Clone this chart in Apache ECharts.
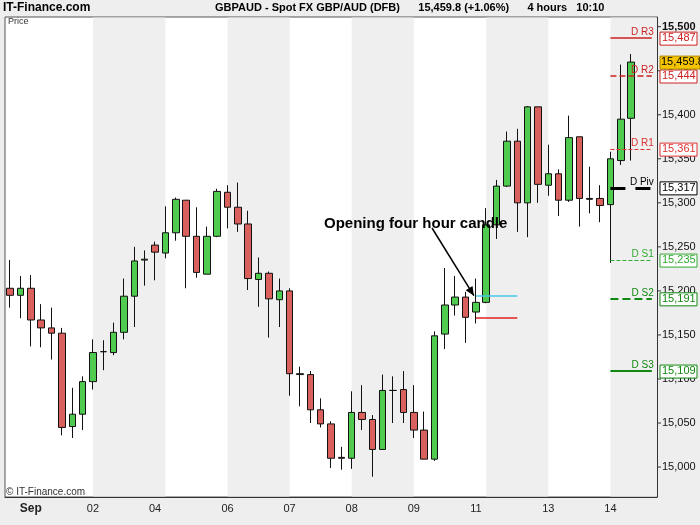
<!DOCTYPE html>
<html><head><meta charset="utf-8">
<script src="https://cdn.jsdelivr.net/npm/echarts@6/dist/echarts.min.js"></script>
<style>html,body{margin:0;padding:0;background:#eeeeee}#c{width:700px;height:525px}</style>
</head><body><div id="c"></div>
<script>
// [open, close, low, high]
const candles = [
[15203,15195,15181,15235],[15195,15203,15169,15217],[15203,15167,15137,15218],[15167,15158,15136,15185],
[15158,15152,15122,15181],[15152,15045,15036,15158],[15046,15060,15033,15090],[15060,15097,15042,15103],
[15097,15130,15088,15145],[15131,15131,15110,15144],[15130,15153,15127,15164],[15153,15194,15145,15214],
[15194,15234,15159,15250],[15235,15236,15206,15246],[15252,15244,15212,15256],[15243,15266,15237,15296],
[15266,15304,15257,15306],[15303,15262,15203,15303],[15262,15221,15215,15295],[15219,15262,15219,15273],
[15262,15313,15261,15316],[15312,15295,15271,15320],[15295,15276,15267,15323],[15276,15214,15201,15291],
[15213,15220,15182,15238],[15220,15191,15147,15222],[15190,15200,15159,15214],[15200,15106,15081,15203],
[15106,15105,15069,15114],[15105,15065,15050,15109],[15065,15049,15045,15078],[15049,15010,14999,15052],
[15011,15010,14997,15023],[15010,15062,14998,15086],[15062,15054,15042,15093],[15054,15020,14989,15059],
[15020,15087,15020,15105],[15087,15087,15050,15103],[15088,15062,15050,15109],[15062,15042,15033,15093],
[15042,15009,15009,15063],[15009,15149,15007,15154],[15151,15184,15134,15226],[15184,15193,15172,15217],
[15193,15170,15141,15199],[15176,15187,15163,15214],[15187,15275,15186,15294],[15275,15319,15259,15326],
[15319,15370,15318,15381],[15370,15300,15267,15384],[15300,15409,15261,15410],[15409,15321,15300,15409],
[15320,15333,15308,15366],[15333,15303,15285,15338],[15303,15374,15301,15399],[15375,15305,15273,15375],
[15305,15304,15288,15341],[15305,15297,15278,15320],[15298,15350,15232,15358],[15348,15395,15343,15457],
[15396,15459.8,15348,15469]
];
const slotCount = 63;
const dayLabels = {2:'Sep',8:'02',14:'04',21:'06',27:'07',33:'08',39:'09',45:'11',52:'13',58:'14'};
const bands = [[8,15],[21,27],[33,39],[46,52],[58,63]];
const pivots = [
 {name:'D R3', v:15487, color:'#cc2222', type:'solid', w:1.5},
 {name:'D R2', v:15444, color:'#cc2222', type:'dashed', w:1.5},
 {name:'D R1', v:15361, color:'#dd3333', type:'dashed', w:1},
 {name:'D Piv', v:15317, color:'#000000', type:[15,10], w:3},
 {name:'D S1', v:15235, color:'#33aa33', type:'dashed', w:1},
 {name:'D S2', v:15191, color:'#118811', type:'dashed', w:2},
 {name:'D S3', v:15109, color:'#118811', type:'solid', w:2}
];
const yTicks = [15000,15050,15100,15150,15200,15250,15300,15350,15400,15450,15500];
const lastPrice = 15459.8;
const cats = []; for (let i=0;i<slotCount;i++) cats.push(dayLabels[i]!==undefined?dayLabels[i]:'');

const chart = echarts.init(document.getElementById('c'));
const Y0 = 14966, Y1 = 15511;
chart.setOption({
  animation:false,
  backgroundColor:'#eeeeee',
  grid:{left:5,right:43,top:17,bottom:28,show:true,backgroundColor:'#ffffff',borderColor:'#555',borderWidth:1,
    outerBoundsMode:'none',containLabel:false},
  xAxis:{type:'category',data:cats,boundaryGap:true,
    axisLine:{lineStyle:{color:'#333'}},
    axisTick:{interval:(i,v)=>v!=='',length:4,alignWithLabel:true,lineStyle:{color:'#333'}},
    axisLabel:{interval:0,margin:6,color:'#222',fontFamily:'Arial, Liberation Sans',fontSize:11,
      formatter:(v)=>v==='Sep'?'{b|Sep}':v,rich:{b:{fontWeight:'bold',fontSize:12,color:'#222',fontFamily:'Arial, Liberation Sans'}}},
    splitLine:{show:false}},
  yAxis:{type:'value',position:'right',min:Y0,max:Y1,axisLabel:{show:false},axisTick:{show:false},
    splitLine:{show:false},axisLine:{show:true,lineStyle:{color:'#333'}}},
  series:[{
    type:'candlestick',data:candles,barWidth:7,
    itemStyle:{color:'#4fcc4f',color0:'#d9605c',borderColor:'#111',borderColor0:'#111',borderWidth:1},
    markLine:{symbol:'none',silent:true,animation:false,
      data:pivots.map(p=>[{coord:[58,p.v],lineStyle:{color:p.color,type:p.type,width:p.w},
        label:{show:true,formatter:p.name,position:'insideEndTop',color:p.color,fontSize:10,fontFamily:'Arial, Liberation Sans',distance:[-2,1]}},
        {coord:[62,p.v]}]).concat([
        [{coord:[44.6,15195],lineStyle:{color:'#44c8e8',type:'solid',width:1.5},label:{show:false}},{coord:[48.5,15195]}],
        [{coord:[44.6,15170],lineStyle:{color:'#e02020',type:'solid',width:1.5},label:{show:false}},{coord:[48.5,15170]}]
      ])}
  }]
});

function px(i,v){return chart.convertToPixel({xAxisIndex:0,yAxisIndex:0},[i,v]);}
const g = [];
const yTop = px(0,Y1)[1], yBot = px(0,Y0)[1];
bands.forEach(b=>{
  const x0 = px(b[0],Y0)[0];
  const x1 = b[1]>=slotCount ? 657 : px(b[1],Y0)[0];
  g.push({type:'rect',z:1,silent:true,shape:{x:x0,y:yTop+0.5,width:x1-x0,height:yBot-yTop-1},style:{fill:'#efefef'}});
});
const axX = 657;
yTicks.forEach(t=>{
  const y = px(0,t)[1];
  g.push({type:'line',shape:{x1:axX,y1:y,x2:axX+4,y2:y},style:{stroke:'#333',lineWidth:1}});
  g.push({type:'text',x:axX+5,y:y,style:{text:t.toLocaleString('en-US'),fill:'#111',
    font:(t===15500?'bold 11px':'11px')+' Arial, "Liberation Sans"',textVerticalAlign:'middle'}});
});
pivots.forEach(p=>{
  const y = px(0,p.v)[1];
  g.push({type:'rect',z:50,shape:{x:axX+3,y:y-6,width:37,height:13},style:{fill:'#fff',stroke:p.color==='#000000'?'#000':p.color,lineWidth:1}});
  g.push({type:'text',z:51,x:axX+5,y:y,style:{text:p.v.toLocaleString('en-US'),fill:p.color,font:'11px Arial, "Liberation Sans"',textVerticalAlign:'middle'}});
});
{
  const y = px(0,lastPrice)[1];
  g.push({type:'rect',z:52,shape:{x:axX+3,y:y-6,width:40,height:13},style:{fill:'#f5c400',stroke:'#b08800'}});
  g.push({type:'text',z:53,x:axX+4,y:y,style:{text:'15,459.8',fill:'#000',font:'11px Arial, "Liberation Sans"',textVerticalAlign:'middle'}});
}
const a0 = [432,228], aEnd = px(45, 15190);
const tx=aEnd[0]-2, ty=aEnd[1]-4;
g.push({type:'line',z:60,shape:{x1:a0[0],y1:a0[1],x2:tx,y2:ty},style:{stroke:'#000',lineWidth:1.5}});
{
  const dx=tx-a0[0], dy=ty-a0[1], L=Math.hypot(dx,dy), ux=dx/L, uy=dy/L;
  g.push({type:'polygon',z:60,shape:{points:[[tx,ty],[tx-ux*9-uy*4,ty-uy*9+ux*4],[tx-ux*9+uy*4,ty-uy*9-ux*4]]},style:{fill:'#000'}});
}
g.push({type:'text',z:61,x:324,y:224,style:{text:'Opening four hour candle',fill:'#000',font:'bold 15px Arial, "Liberation Sans"',textVerticalAlign:'middle'}});
g.push({type:'text',x:3,y:8,style:{text:'IT-Finance.com',fill:'#000',font:'bold 12px Arial, "Liberation Sans"',textVerticalAlign:'middle'}});
g.push({type:'text',x:215,y:8,style:{text:'GBPAUD - Spot FX GBP/AUD (DFB)      15,459.8 (+1.06%)      4 hours   10:10',fill:'#000',font:'bold 11px Arial, "Liberation Sans"',textVerticalAlign:'middle'}});
g.push({type:'text',z:5,x:8,y:22,style:{text:'Price',fill:'#333',font:'9px Arial, "Liberation Sans"',textVerticalAlign:'middle'}});
g.push({type:'text',z:5,x:6,y:492,style:{text:'© IT-Finance.com',fill:'#333',font:'10px Arial, "Liberation Sans"',textVerticalAlign:'middle'}});
chart.setOption({graphic:g});
</script></body></html>
